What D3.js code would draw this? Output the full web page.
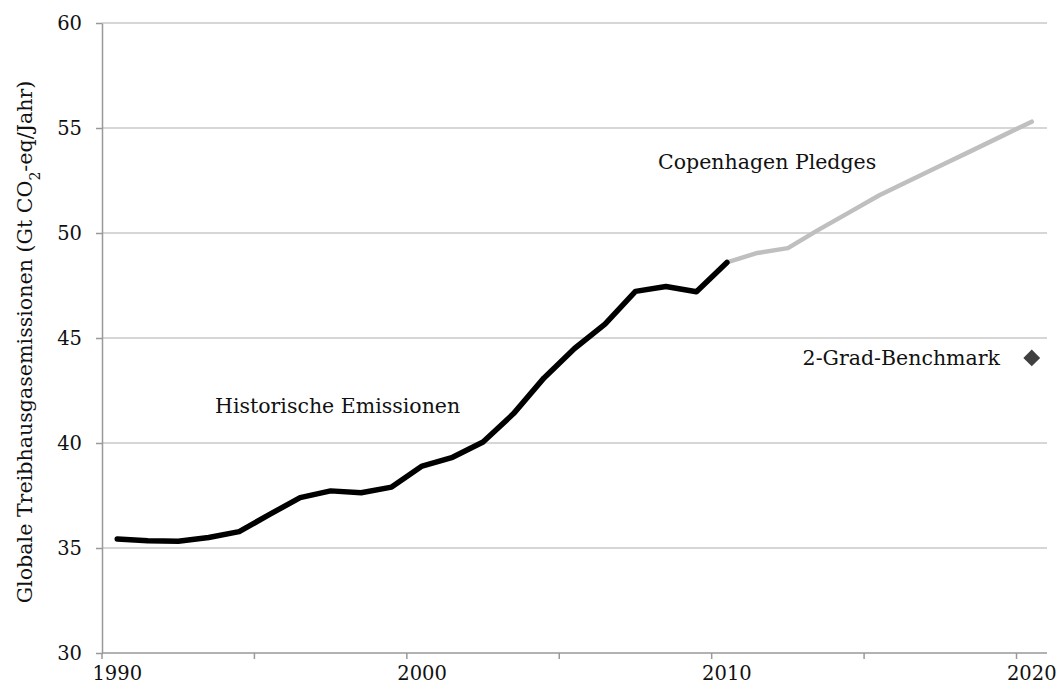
<!DOCTYPE html>
<html>
<head>
<meta charset="utf-8">
<title>Globale Treibhausgasemissionen</title>
<script src="https://d3js.org/d3.v7.min.js"></script>
<style>
    body { margin: 0; background: #fff; }
    svg text { font-family: "DejaVu Serif", serif; fill: #111; }
    .grid line { stroke: #c9c9c9; stroke-width: 1.5px; }
    .axis path, .axis line { stroke: #999; stroke-width: 1.5px; }
</style>
</head>
<body>
<svg id="chart" width="1058" height="689"></svg>
<script>

    // years on the category axis
    var years = d3.range(1990, 2021);

    // historical emissions 1990-2010 (Gt CO2-eq / year)
    var histYears = [1990, 1991, 1992, 1993, 1994, 1995, 1996, 1997, 1998, 1999, 2000,
                     2001, 2002, 2003, 2004, 2005, 2006, 2007, 2008, 2009, 2010];
    var histValues = [35.43, 35.35, 35.32, 35.5, 35.78, 36.6, 37.4, 37.72, 37.63, 37.9, 38.9,
                      39.32, 40.05, 41.4, 43.1, 44.5, 45.66, 47.22, 47.45, 47.2, 48.6];

    // Copenhagen pledges 2010-2020
    var pledgeYears = [2010, 2011, 2012, 2013, 2014, 2015, 2016, 2017, 2018, 2019, 2020];
    var pledgeValues = [48.6, 49.05, 49.28, 50.15, 50.97, 51.8, 52.5, 53.2, 53.9, 54.6, 55.3];

    // 2-degree benchmark
    var benchmarkYear = 2020, benchmarkValue = 44.05;

    var yTicks = [30, 35, 40, 45, 50, 55, 60];
    var xLabelYears = [1990, 2000, 2010, 2020];
    var xTickYears = [1990, 1995, 2000, 2005, 2010, 2015, 2020];

    var svg = d3.select("#chart");
    var plotLeft = 102, plotRight = 1047, plotTop = 23, plotBottom = 653;

    var x = d3.scaleBand().domain(years).range([plotLeft, plotRight]).padding(0);
    var xc = function(yr) { return x(yr) + x.bandwidth() / 2; };
    var y = d3.scaleLinear().domain([30, 60]).range([plotBottom, plotTop]);

    // gridlines
    svg.append("g").attr("class", "grid")
        .selectAll("line")
        .data(yTicks.filter(function(d) { return d > 30; }))
        .enter().append("line")
        .attr("x1", plotLeft).attr("x2", plotRight)
        .attr("y1", function(d) { return y(d); })
        .attr("y2", function(d) { return y(d); });

    // y axis
    var yAxis = svg.append("g").attr("class", "axis")
        .attr("transform", "translate(" + plotLeft + ",0)")
        .call(d3.axisLeft(y).tickValues(yTicks).tickSize(6).tickSizeOuter(0).tickPadding(14));
    yAxis.selectAll("text")
        .attr("font-family", null)
        .style("font-size", "19.5px").attr("fill", "#111");

    // x axis: ticks on category boundaries, labels centered on categories
    var xAxisG = svg.append("g").attr("class", "axis");
    xAxisG.append("line")
        .attr("x1", plotLeft).attr("x2", plotRight)
        .attr("y1", plotBottom).attr("y2", plotBottom);
    xAxisG.selectAll(".tick")
        .data(xTickYears)
        .enter().append("line")
        .attr("x1", function(d) { return x(d); })
        .attr("x2", function(d) { return x(d); })
        .attr("y1", plotBottom).attr("y2", plotBottom + 6);
    xAxisG.selectAll(".label")
        .data(xLabelYears)
        .enter().append("text")
        .attr("x", function(d) { return xc(d); })
        .attr("y", plotBottom + 27)
        .attr("text-anchor", "middle")
        .style("font-size", "19.5px")
        .text(function(d) { return d; });

    var line = d3.line()
        .x(function(d) { return xc(d[0]); })
        .y(function(d) { return y(d[1]); });

    svg.append("path")
        .datum(d3.zip(pledgeYears, pledgeValues))
        .attr("d", line)
        .attr("fill", "none")
        .attr("stroke", "#bfbfbf")
        .attr("stroke-width", 4.5)
        .attr("stroke-linejoin", "round")
        .attr("stroke-linecap", "round");

    svg.append("path")
        .datum(d3.zip(histYears, histValues))
        .attr("d", line)
        .attr("fill", "none")
        .attr("stroke", "#000")
        .attr("stroke-width", 5.5)
        .attr("stroke-linejoin", "round")
        .attr("stroke-linecap", "round");

    // benchmark diamond
    svg.append("path")
        .attr("d", d3.symbol().type(d3.symbolDiamond2).size(180))
        .attr("transform", "translate(" + xc(benchmarkYear) + "," + y(benchmarkValue) + ")")
        .attr("fill", "#404040");

    // annotations
    svg.append("text").attr("x", 215).attr("y", 413)
        .style("font-size", "20.5px").text("Historische Emissionen");
    svg.append("text").attr("x", 658).attr("y", 169)
        .style("font-size", "20.5px").text("Copenhagen Pledges");
    svg.append("text").attr("x", 1000).attr("y", 365)
        .attr("text-anchor", "end")
        .style("font-size", "20.5px").text("2-Grad-Benchmark");

    // y axis title
    var title = svg.append("text")
        .attr("transform", "translate(32,342) rotate(-90)")
        .attr("text-anchor", "middle")
        .style("font-size", "20.6px");
    title.append("tspan").text("Globale Treibhausgasemissionen (Gt CO");
    title.append("tspan").attr("baseline-shift", "sub").style("font-size", "14px").text("2");
    title.append("tspan").text("-eq/Jahr)");

</script>
</body>
</html>
